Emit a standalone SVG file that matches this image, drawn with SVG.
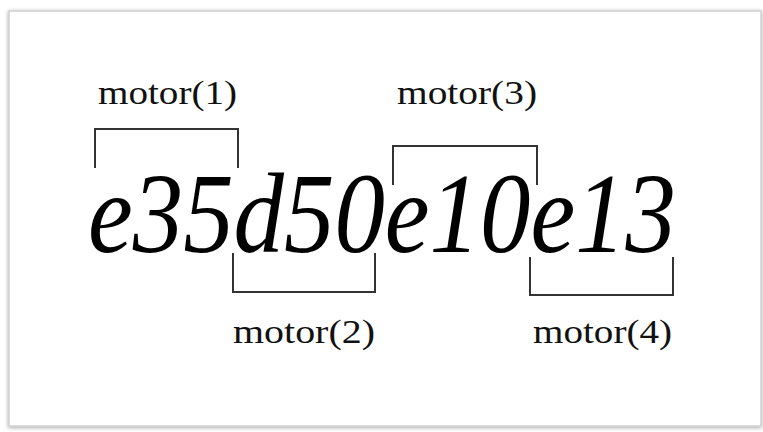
<svg xmlns="http://www.w3.org/2000/svg" width="763" height="432" viewBox="0 0 763 432">
<defs>
<style>
.lbl{font-family:"Liberation Serif","Times New Roman",serif;font-size:34px;fill:#111}
.big{font-family:"Liberation Serif","Times New Roman",serif;font-style:italic;font-size:114px;fill:#000}
.br{fill:none;stroke:#333;stroke-width:2}
</style>
<filter id="sh" x="-5%" y="-5%" width="110%" height="110%">
<feGaussianBlur in="SourceAlpha" stdDeviation="2"/>
<feOffset dx="0" dy="1"/>
<feComponentTransfer><feFuncA type="linear" slope="0.35"/></feComponentTransfer>
<feMerge><feMergeNode/><feMergeNode in="SourceGraphic"/></feMerge>
</filter>
</defs>
<rect width="763" height="432" fill="#fff"/>
<rect x="9" y="11" width="752" height="415" fill="#fff" stroke="#cfcfcf" stroke-width="1.5" filter="url(#sh)"/>
<g id="code">
<text class="big" x="88" y="252" textLength="588" lengthAdjust="spacingAndGlyphs">e35d50e10e13</text>
</g>
<g id="connectors">
<path class="br" d="M95,168 V129 H238 V168"/>
<path class="br" d="M233,253 V292 H375 V253"/>
<path class="br" d="M393,185 V146 H537 V185"/>
<path class="br" d="M530,257 V295 H673 V257"/>
</g>
<g id="motor1"><text class="lbl" x="98" y="104" textLength="139" lengthAdjust="spacingAndGlyphs">motor(1)</text></g>
<g id="motor2"><text class="lbl" x="233" y="343" textLength="142" lengthAdjust="spacingAndGlyphs">motor(2)</text></g>
<g id="motor3"><text class="lbl" x="397" y="104" textLength="140" lengthAdjust="spacingAndGlyphs">motor(3)</text></g>
<g id="motor4"><text class="lbl" x="533" y="343" textLength="139" lengthAdjust="spacingAndGlyphs">motor(4)</text></g>
</svg>
